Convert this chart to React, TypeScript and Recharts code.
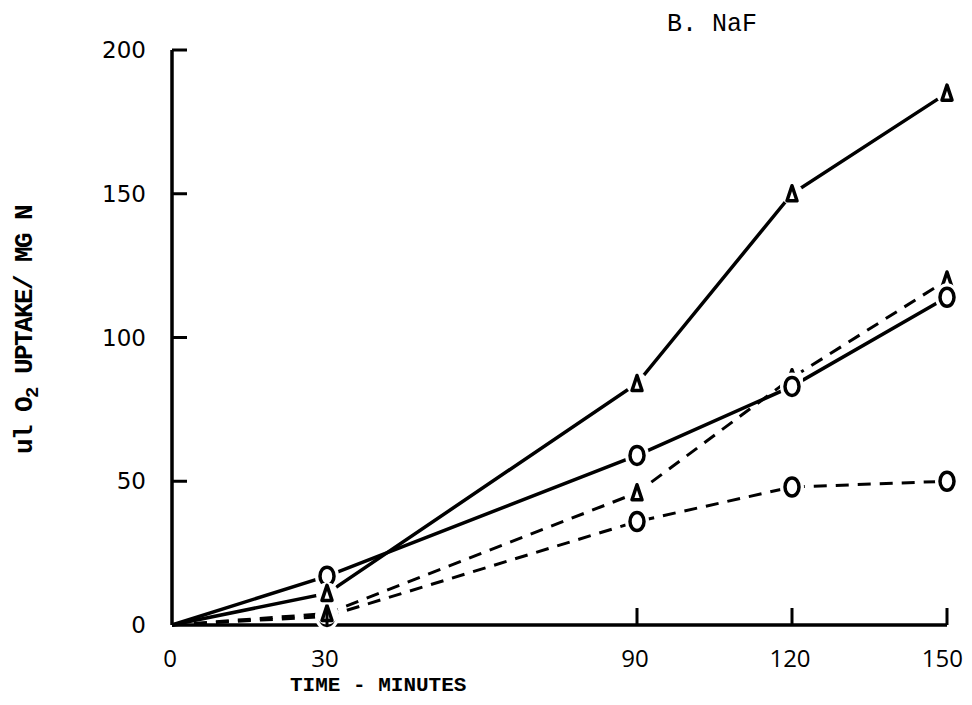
import { LineChart, Line, XAxis, YAxis } from 'recharts'

const minutes = [0, 30, 90, 120, 150]
const solidTriangle = [0, 11, 84, 150, 185]
const solidCircle = [0, 17, 59, 83, 114]
const dashedTriangle = [0, 4, 46, 86, 120]
const dashedCircle = [0, 3, 36, 48, 50]

const xTicks = [0, 30, 90, 120, 150]
const yTicks = [0, 50, 100, 150, 200]

const data = minutes.map((t, i) => ({
  t,
  st: solidTriangle[i],
  sc: solidCircle[i],
  dt: dashedTriangle[i],
  dc: dashedCircle[i],
}))

const mono = '"Liberation Mono", "DejaVu Sans Mono", monospace'

const CircleDot = (props: any) => {
  const { cx, cy, index } = props
  if (index === 0 || cx == null) return <g key={`c-${index}`} />
  return (
    <g key={`c-${props.dataKey}-${index}`}>
      <ellipse cx={cx} cy={cy} rx={12} ry={14} fill="#fff" />
      <ellipse cx={cx} cy={cy} rx={7} ry={9} fill="#fff" stroke="#000" strokeWidth={3.5} />
    </g>
  )
}

const TriangleDot = (props: any) => {
  const { cx, cy, index } = props
  if (index === 0 || cx == null) return <g key={`t-${index}`} />
  return (
    <g key={`t-${props.dataKey}-${index}`}>
      <circle cx={cx} cy={cy} r={11} fill="#fff" />
      <polygon
        points={`${cx - 5},${cy + 7} ${cx},${cy - 8} ${cx + 5},${cy + 7}`}
        fill="#fff"
        stroke="#000"
        strokeWidth={3.5}
        strokeLinejoin="round"
      />
    </g>
  )
}

const YTick = ({ x, y, payload }: any) => (
  <g>
    <text
      x={x}
      y={y + 8}
      textAnchor="end"
      fontFamily='"DejaVu Sans", sans-serif'
      fontSize={23}
      fill="#000"
    >
      {payload.value}
    </text>
    {payload.value !== 0 && (
      <line x1={x + 26} x2={x + 41} y1={y} y2={y} stroke="#000" strokeWidth={3} />
    )}
  </g>
)

const XTick = ({ x, y, payload }: any) => {
  const last = payload.value === 150
  return (
    <g>
      <text
        x={last ? x + 16 : x - 2}
        y={y + 42}
        textAnchor={last ? 'end' : 'middle'}
        fontFamily='"Open Sans", sans-serif'
        fontSize={24}
        fill="#000"
      >
        {payload.value}
      </text>
      {payload.value !== 0 && (
        <line x1={x} x2={x} y1={y} y2={y - 17} stroke="#000" strokeWidth={3} />
      )}
    </g>
  )
}

export default function App() {
  return (
    <div style={{ position: 'relative', width: 964, height: 688, background: '#fff' }}>
      <LineChart
        width={964}
        height={688}
        data={data}
        margin={{ top: 42, right: 25, bottom: 0, left: 0 }}
      >
        <XAxis
          dataKey="t"
          type="number"
          domain={[0, 150]}
          ticks={xTicks}
          height={71}
          tickSize={0}
          tickMargin={0}
          tick={<XTick />}
          axisLine={{ stroke: '#000', strokeWidth: 3.5 }}
        />
        <YAxis
          type="number"
          domain={[0, 200]}
          ticks={yTicks}
          width={164}
          tickSize={0}
          tickMargin={26}
          tick={<YTick />}
          axisLine={{ stroke: '#000', strokeWidth: 3.5 }}
        />
        <Line
          dataKey="dc"
          stroke="#000"
          strokeWidth={3}
          strokeDasharray="13 9"
          dot={CircleDot}
          isAnimationActive={false}
        />
        <Line
          dataKey="dt"
          stroke="#000"
          strokeWidth={3}
          strokeDasharray="13 9"
          dot={TriangleDot}
          isAnimationActive={false}
        />
        <Line
          dataKey="sc"
          stroke="#000"
          strokeWidth={3.5}
          dot={CircleDot}
          isAnimationActive={false}
        />
        <Line
          dataKey="st"
          stroke="#000"
          strokeWidth={3.5}
          dot={TriangleDot}
          isAnimationActive={false}
        />
      </LineChart>
      <div
        style={{
          position: 'absolute',
          left: 659,
          top: 2,
          fontFamily: mono,
          fontSize: 25,
          color: '#000',
          whiteSpace: 'nowrap',
        }}
      >
        B. NaF
      </div>
      <div
        style={{
          position: 'absolute',
          left: 282,
          top: 667,
          fontFamily: mono,
          fontWeight: 'bold',
          fontSize: 21,
          lineHeight: '22px',
          color: '#000',
          whiteSpace: 'nowrap',
        }}
      >
        TIME - MINUTES
      </div>
      <div
        style={{
          position: 'absolute',
          left: 19,
          top: 322,
          transform: 'translate(-50%, -50%) rotate(-90deg)',
          fontFamily: mono,
          fontWeight: 'bold',
          fontSize: 26,
          letterSpacing: -1.6,
          color: '#000',
          whiteSpace: 'nowrap',
        }}
      >
        ul O<sub style={{ fontSize: 19 }}>2</sub> UPTAKE/ MG N
      </div>
    </div>
  )
}
